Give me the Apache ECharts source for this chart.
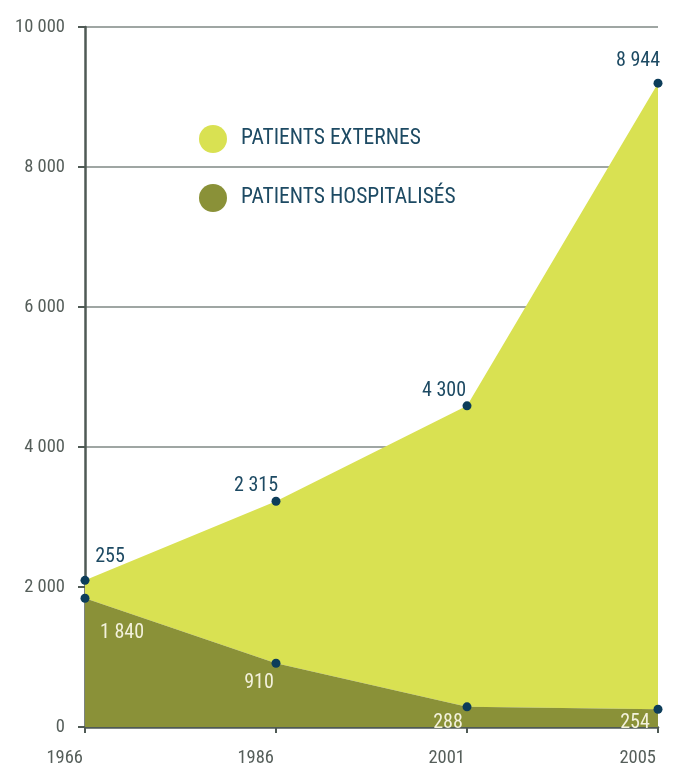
<!DOCTYPE html>
<html>
<head>
<meta charset="utf-8">
<script src="https://cdn.jsdelivr.net/npm/echarts@6/dist/echarts.min.js"></script>
<style>
html,body{margin:0;padding:0;background:#fff;}
#c{width:675px;height:769px;}
</style>
</head>
<body>
<div id="c"></div>
<script>
const years = ['1966', '1986', '2001', '2005'];
const hospitalises = [1840, 910, 288, 254];
const externes = [255, 2315, 4300, 8944];
const seriesNames = ['PATIENTS EXTERNES', 'PATIENTS HOSPITALISÉS'];
const yTicks = [0, 2000, 4000, 6000, 8000, 10000];

const FONT = '"Roboto Condensed","Liberation Sans Narrow","DejaVu Sans Condensed",Roboto,sans-serif';
const fmt = v => String(v).replace(/\B(?=(\d{3})+(?!\d))/g, ' ');

const extOffsets = [[25, -23], [-20, -15], [-23, -15], [-20, -22]];
const hosOffsets = [[37, 35], [-17, 20], [-19, 16], [-23, 14]];

const chart = echarts.init(document.getElementById('c'));
chart.setOption({
  animation: false,
  backgroundColor: '#ffffff',
  grid: { left: 85, right: 17, top: 27, bottom: 42 },
  legend: {
    orient: 'vertical',
    left: 194, top: 120,
    itemWidth: 28, itemHeight: 28, itemGap: 31,
    icon: 'circle',
    textStyle: { color: '#1d4a63', fontSize: 21.5, fontFamily: FONT, padding: [0, 0, 0, 9] },
    data: [
      { name: seriesNames[0], itemStyle: { color: '#d9e152' } },
      { name: seriesNames[1], itemStyle: { color: '#8a9138' } }
    ]
  },
  xAxis: {
    type: 'category',
    data: years,
    boundaryGap: false,
    axisLine: { lineStyle: { color: '#4f5a55', width: 2.5 } },
    axisTick: { show: true, length: 6, lineStyle: { color: '#4f5a55', width: 2 } },
    axisLabel: { color: '#555e5a', fontSize: 18.5, fontFamily: FONT, margin: 22, align: 'right', padding: [0, 2, 0, 0] },
    splitLine: { show: false }
  },
  yAxis: {
    type: 'value',
    min: 0, max: 10000, interval: 2000,
    axisLine: { show: true, lineStyle: { color: '#4f5a55', width: 2.5 } },
    axisTick: { show: true, length: 7, lineStyle: { color: '#4f5a55', width: 2 } },
    axisLabel: {
      color: '#555e5a', fontSize: 18.5, fontFamily: FONT, margin: 20,
      formatter: v => yTicks.includes(v) ? fmt(v) : ''
    },
    splitLine: { show: true, lineStyle: { color: '#7f8884', width: 1.5 } }
  },
  series: [
    {
      name: seriesNames[1],
      type: 'line',
      stack: 'total',
      data: hospitalises.map((v, i) => ({
        value: v,
        label: { offset: hosOffsets[i] }
      })),
      symbol: 'circle', symbolSize: 9, showSymbol: true,
      itemStyle: { color: '#0d3d5a' },
      lineStyle: { width: 0 },
      areaStyle: { color: '#8a9138', opacity: 1 },
      label: {
        show: true, position: 'inside',
        color: '#f3f1dc', fontSize: 20, fontFamily: FONT,
        formatter: p => fmt(p.value)
      },
      z: 4
    },
    {
      name: seriesNames[0],
      type: 'line',
      stack: 'total',
      data: externes.map((v, i) => ({
        value: v,
        label: { offset: extOffsets[i] }
      })),
      symbol: 'circle', symbolSize: 9, showSymbol: true,
      itemStyle: { color: '#0d3d5a' },
      lineStyle: { width: 0 },
      areaStyle: { color: '#d9e152', opacity: 1 },
      label: {
        show: true, position: 'inside',
        color: '#1d4a63', fontSize: 20, fontFamily: FONT,
        formatter: p => fmt(p.value)
      },
      z: 3
    }
  ]
});
</script>
</body>
</html>
